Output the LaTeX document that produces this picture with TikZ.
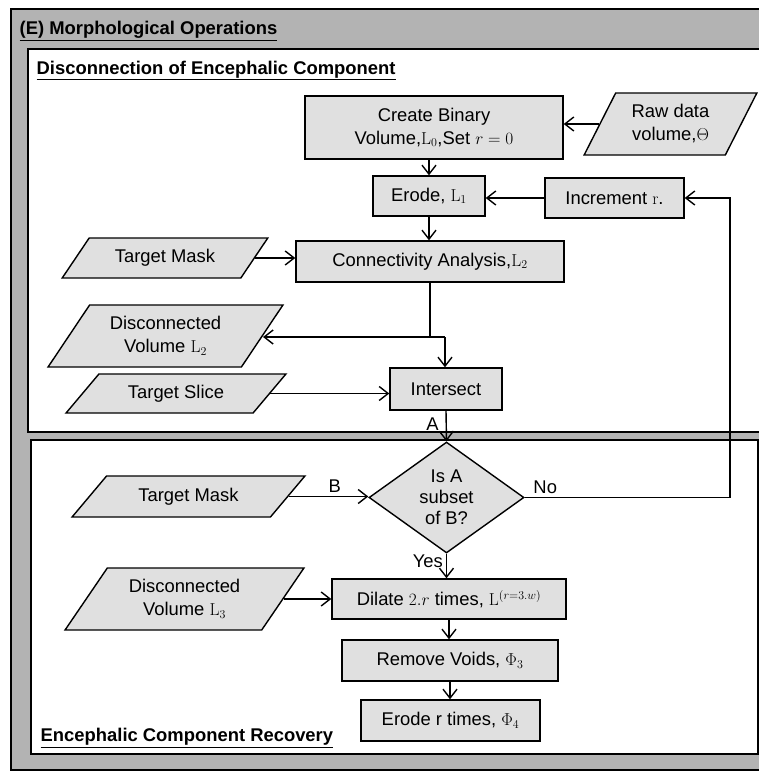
\documentclass[tikz,border=0pt]{standalone}
\usepackage[no-math]{fontspec}
\setmainfont{Liberation Sans}
\usetikzlibrary{shapes.geometric,arrows.meta}
\definecolor{outergray}{HTML}{B3B3B3}
\definecolor{boxgray}{HTML}{E0E0E0}
\newcommand{\bodyfnt}{\fontsize{18.4}{23}\selectfont}
\newcommand{\headfnt}{\fontsize{18.4}{22}\selectfont\bfseries}
\begin{document}
\begin{tikzpicture}[x=1pt,y=-1pt,
  line width=1.4pt,
  >={Straight Barb[length=9pt,width=14pt]},
  box/.style={draw, fill=boxgray, rectangle, inner sep=2pt, align=center, font=\bodyfnt},
  para/.style 2 args={draw, fill=boxgray, trapezium, trapezium left angle=#1, trapezium right angle=#2, trapezium stretches=true, align=center, inner sep=1pt, font=\bodyfnt},
  arr/.style={->},
  lbl/.style={font=\bodyfnt, inner sep=3pt},
  head/.style={anchor=base west, inner sep=0pt, font=\headfnt}
]
\clip (0,0) rectangle (759,771);
% frames
\draw[fill=outergray] (11,9) rectangle (800,770);
\draw[fill=white] (28,49) rectangle (800,432);
\draw[fill=white] (31,440) rectangle (758,754);
\node[head] (title) at (19,34.5) {\underline{(E) Morphological Operations}};
\node[head] (sub1) at (36,74) {\underline{Disconnection of Encephalic Component}};
\node[head] (sub2) at (40,741.5) {\underline{Encephalic Component Recovery}};

% nodes
\node[box, minimum width=258pt, minimum height=63pt] (create) at (434,127.5) {Create Binary\\Volume,$\mathrm{L}_0$,Set $r=0$};
\node[para={60.6}{119.4}, minimum width=173pt, minimum height=62pt] (raw) at (670.5,124) {Raw data\\volume,$\Theta$};
\node[box, minimum width=112pt, minimum height=40pt] (erode1) at (429,196) {Erode, $\mathrm{L}_1$};
\node[box, minimum width=139pt, minimum height=40pt] (incr) at (614.5,198) {Increment $\mathrm{r}$.};
\node[box, minimum width=268pt, minimum height=41pt] (conn) at (430,261.5) {Connectivity Analysis,$\mathrm{L}_2$};
\node[para={46.5}{133.5}, minimum width=206pt, minimum height=40pt] (tm1) at (165,258) {Target Mask};
\node[para={52.8}{127.2}, minimum width=235pt, minimum height=62pt] (dv2) at (165.5,336) {Disconnected\\Volume $\mathrm{L}_2$};
\node[para={42.5}{137.5}, minimum width=220pt, minimum height=39pt] (ts) at (176,393.5) {Target Slice};
\node[box, minimum width=112pt, minimum height=42pt] (inter) at (446,389) {Intersect};
\node[draw, fill=boxgray, diamond, aspect=1.4, inner sep=0pt, minimum width=155pt, minimum height=111pt, align=center, font=\fontsize{18.4}{21}\selectfont] (dia) at (446.5,497.5) {Is A\\subset\\of B?};
\node[para={41.7}{138.3}, minimum width=233pt, minimum height=41pt] (tm2) at (188.5,496.5) {Target Mask};
\node[para={52.8}{127.2}, minimum width=239pt, minimum height=62pt] (dv3) at (184.5,599) {Disconnected\\Volume $\mathrm{L}_3$};
\node[box, minimum width=234pt, minimum height=40pt] (dilate) at (449,599) {Dilate $2.r$ times, $\mathrm{L}^{(r=3.w)}$};
\node[box, minimum width=216pt, minimum height=41pt] (voids) at (450,660.5) {Remove Voids, $\Phi_3$};
\node[box, minimum width=179pt, minimum height=41pt] (erode2) at (450.5,720.5) {Erode r times, $\Phi_4$};

% connectors
\draw[arr] (raw.west) -- (create.east |- raw.west);
\draw[arr] (erode1.north |- create.south) -- (erode1.north);
\draw[arr] (incr.west) -- (erode1.east |- incr.west);
\draw[arr] (erode1.south) -- (conn.north -| erode1.south);
\draw[arr] (tm1.east) -- (conn.west |- tm1.east);
\coordinate (split) at (445,337);
\draw (conn.south) |- (split);
\draw[arr] (split) -- (dv2.east |- split);
\draw[arr] (split) -- (split |- inter.north);
\draw[arr] (ts.east) -- (inter.west |- ts.east);
\draw[arr] (inter.south) -- node[lbl, left, pos=0.45, xshift=-4pt] {A} (dia.north);
\draw[arr] (tm2.east) -- node[lbl, above, pos=0.58] {B} (dia.west |- tm2.east);
\coordinate (loop) at (730,497.5);
\draw[arr] (dia.east) -- node[lbl, above, pos=0.1] {No} (loop) |- (incr.east);
\draw[arr] (dia.south) -- node[lbl, left, pos=0.3] {Yes} (dilate.north -| dia.south);
\draw[arr] (dv3.east) -- (dilate.west |- dv3.east);
\draw[arr] (dilate.south) -- (voids.north -| dilate.south);
\draw[arr] (voids.south) -- (erode2.north -| voids.south);
\end{tikzpicture}
\end{document}
